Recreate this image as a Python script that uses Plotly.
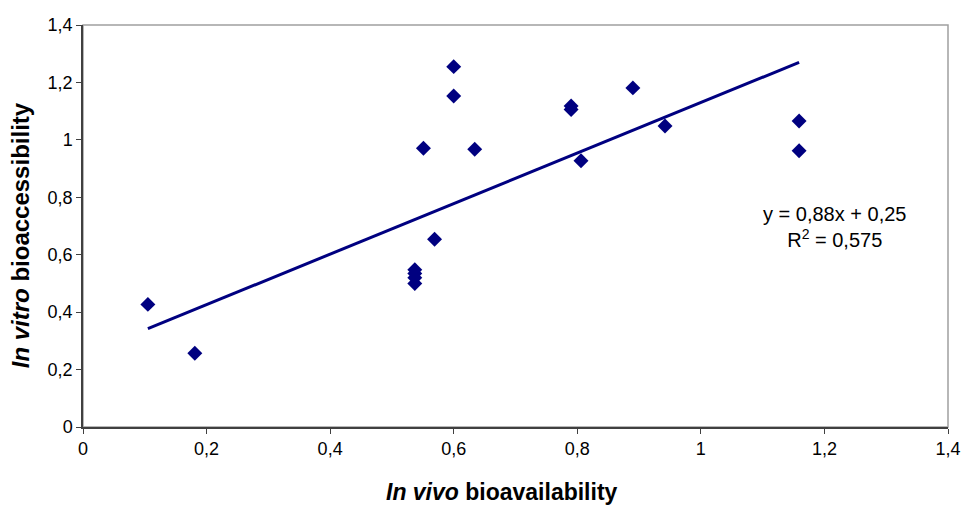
import plotly.graph_objects as go

# Data
in_vivo = [0.105, 0.181, 0.537, 0.537, 0.537, 0.537, 0.551, 0.569, 0.600, 0.600,
           0.634, 0.790, 0.790, 0.806, 0.890, 0.942, 1.159, 1.159]
in_vitro = [0.427, 0.257, 0.548, 0.535, 0.520, 0.500, 0.971, 0.654, 1.255, 1.153,
            0.967, 1.118, 1.106, 0.927, 1.181, 1.048, 1.066, 0.962]

slope = 0.88
intercept = 0.25
r2_label = "0,575"

x_ticks = [0, 0.2, 0.4, 0.6, 0.8, 1.0, 1.2, 1.4]
y_ticks = [0, 0.2, 0.4, 0.6, 0.8, 1.0, 1.2, 1.4]

x_title = "<b><i>In vivo</i> bioavailability</b>"
y_title = "<b><i>In vitro</i> bioaccessibility</b>"

navy = "#000080"
font = "Liberation Sans, Arial, sans-serif"

trend_x = [min(in_vivo), max(in_vivo)]
trend_y = [slope * v + intercept for v in trend_x]

fig = go.Figure()
fig.add_trace(go.Scatter(
    x=in_vivo, y=in_vitro, mode="markers",
    marker=dict(symbol="diamond", size=11.5, color=navy, line=dict(width=0)),
    showlegend=False, hoverinfo="x+y"))
fig.add_trace(go.Scatter(
    x=trend_x, y=trend_y, mode="lines",
    line=dict(color=navy, width=3), showlegend=False, hoverinfo="skip"))

fig.add_annotation(
    x=1.217, y=0.697, xref="x", yref="y",
    text="y = 0,88x + 0,25<br>R<sup>2</sup> = " + r2_label,
    showarrow=False, align="center",
    font=dict(family=font, size=20, color="#000000"))

# axis titles placed as in the reference
fig.add_annotation(
    x=0.4844, y=-0.1617, xref="paper", yref="paper", text=x_title,
    showarrow=False, xanchor="center", yanchor="middle",
    font=dict(family=font, size=23, color="#000000"))
fig.add_annotation(
    x=-0.0725, y=0.4776, xref="paper", yref="paper", text=y_title,
    showarrow=False, xanchor="center", yanchor="middle", textangle=-90,
    font=dict(family=font, size=24, color="#000000"))

# plot-area frame (gray top/right)
fig.add_shape(type="rect", xref="paper", yref="paper", x0=0, y0=0, x1=1, y1=1,
              line=dict(color="#a0a0a0", width=1.5), layer="below")

axis_common = dict(
    showgrid=False, zeroline=False, showline=True, linecolor="#404040", linewidth=1.5,
    ticks="outside", ticklen=5, tickcolor="#404040", tickwidth=1,
    tickfont=dict(family=font, size=18, color="#000000"),
    ticklabeloverflow="allow", automargin=False,
)

fig.update_layout(
    width=964, height=505,
    margin=dict(l=83, r=16, t=25, b=78, autoexpand=False),
    paper_bgcolor="white", plot_bgcolor="white",
    separators=",.",
    font=dict(family=font),
    xaxis=dict(range=[0, 1.4], tickvals=x_ticks, **axis_common),
    yaxis=dict(range=[0, 1.4], tickvals=y_ticks, **axis_common),
)

fig.write_html("out.html", config={"displayModeBar": False},
               post_script="document.body.style.margin='0';document.body.style.overflow='hidden';")
